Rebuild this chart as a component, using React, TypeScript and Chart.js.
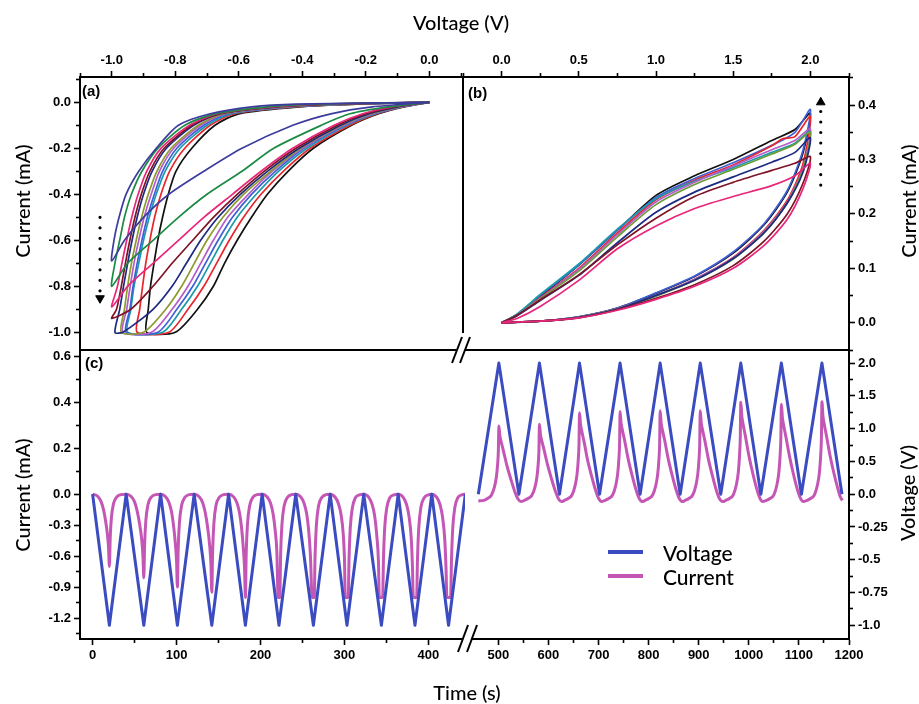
import React, { useEffect, useRef } from 'react';
import { Chart, registerables } from 'chart.js';

Chart.register(...registerables);

type Pt = [number, number];

// ================= Panel (a): CV loops, negative window  [V, mA] =================
const aBlack: Pt[] = [[0,0],[-0.08,-0.02],[-0.16,-0.05],[-0.245,-0.1],[-0.365,-0.2],[-0.445,-0.3],[-0.51,-0.4],[-0.56,-0.5],[-0.605,-0.6],[-0.645,-0.7],[-0.68,-0.8],[-0.73,-0.9],[-0.8,-1.0],[-0.89,-1.0],[-0.885,-0.9],[-0.878,-0.8],[-0.867,-0.7],[-0.855,-0.6],[-0.84,-0.5],[-0.822,-0.4],[-0.798,-0.3],[-0.748,-0.2],[-0.675,-0.1],[-0.6,-0.05],[-0.41,-0.02],[-0.22,-0.008],[0,0]];
const aRed: Pt[] = [[0,0],[-0.085,-0.02],[-0.165,-0.05],[-0.25,-0.1],[-0.375,-0.2],[-0.46,-0.3],[-0.53,-0.4],[-0.585,-0.5],[-0.63,-0.6],[-0.67,-0.7],[-0.71,-0.8],[-0.76,-0.9],[-0.82,-1.0],[-0.92,-1.0],[-0.912,-0.9],[-0.903,-0.8],[-0.893,-0.7],[-0.88,-0.6],[-0.865,-0.5],[-0.845,-0.4],[-0.818,-0.3],[-0.77,-0.2],[-0.69,-0.1],[-0.615,-0.05],[-0.43,-0.02],[-0.24,-0.008],[0,0]];
const aTeal: Pt[] = [[0,0],[-0.088,-0.02],[-0.17,-0.05],[-0.26,-0.1],[-0.385,-0.2],[-0.475,-0.3],[-0.545,-0.4],[-0.605,-0.5],[-0.65,-0.6],[-0.69,-0.7],[-0.73,-0.8],[-0.78,-0.9],[-0.84,-1.0],[-0.95,-1.0],[-0.94,-0.9],[-0.93,-0.8],[-0.915,-0.7],[-0.9,-0.6],[-0.882,-0.5],[-0.86,-0.4],[-0.832,-0.3],[-0.785,-0.2],[-0.7,-0.1],[-0.625,-0.05],[-0.44,-0.02],[-0.25,-0.008],[0,0]];
const aBlue: Pt[] = [[0,0],[-0.09,-0.02],[-0.175,-0.05],[-0.265,-0.1],[-0.395,-0.2],[-0.485,-0.3],[-0.56,-0.4],[-0.62,-0.5],[-0.665,-0.6],[-0.705,-0.7],[-0.745,-0.8],[-0.795,-0.9],[-0.855,-1.0],[-0.955,-1.0],[-0.943,-0.9],[-0.933,-0.8],[-0.92,-0.7],[-0.905,-0.6],[-0.888,-0.5],[-0.866,-0.4],[-0.84,-0.3],[-0.795,-0.2],[-0.71,-0.1],[-0.635,-0.05],[-0.45,-0.02],[-0.26,-0.008],[0,0]];
const aViolet: Pt[] = [[0,0],[-0.093,-0.02],[-0.18,-0.05],[-0.27,-0.1],[-0.4,-0.2],[-0.495,-0.3],[-0.57,-0.4],[-0.635,-0.5],[-0.68,-0.6],[-0.72,-0.7],[-0.76,-0.8],[-0.81,-0.9],[-0.875,-1.0],[-0.965,-1.0],[-0.953,-0.9],[-0.942,-0.8],[-0.93,-0.7],[-0.915,-0.6],[-0.898,-0.5],[-0.876,-0.4],[-0.85,-0.3],[-0.805,-0.2],[-0.72,-0.1],[-0.645,-0.05],[-0.46,-0.02],[-0.27,-0.008],[0,0]];
const aOlive: Pt[] = [[0,0],[-0.096,-0.02],[-0.185,-0.05],[-0.275,-0.1],[-0.405,-0.2],[-0.5,-0.3],[-0.585,-0.4],[-0.65,-0.5],[-0.7,-0.6],[-0.74,-0.7],[-0.78,-0.8],[-0.83,-0.9],[-0.9,-1.0],[-0.97,-1.0],[-0.96,-0.9],[-0.95,-0.8],[-0.938,-0.7],[-0.923,-0.6],[-0.906,-0.5],[-0.885,-0.4],[-0.858,-0.3],[-0.813,-0.2],[-0.728,-0.1],[-0.65,-0.05],[-0.47,-0.02],[-0.28,-0.008],[0,0]];
const aNavy: Pt[] = [[0,0],[-0.1,-0.02],[-0.19,-0.05],[-0.28,-0.1],[-0.41,-0.2],[-0.51,-0.3],[-0.595,-0.4],[-0.665,-0.5],[-0.72,-0.6],[-0.765,-0.7],[-0.81,-0.8],[-0.87,-0.9],[-0.965,-1.0],[-0.99,-1.0],[-0.975,-0.9],[-0.963,-0.8],[-0.95,-0.7],[-0.936,-0.6],[-0.92,-0.5],[-0.9,-0.4],[-0.873,-0.3],[-0.828,-0.2],[-0.742,-0.1],[-0.66,-0.05],[-0.48,-0.02],[-0.3,-0.008],[0,0]];
const aMaroon: Pt[] = [[0,0],[-0.11,-0.02],[-0.2,-0.05],[-0.29,-0.1],[-0.42,-0.2],[-0.52,-0.3],[-0.605,-0.4],[-0.68,-0.5],[-0.745,-0.6],[-0.81,-0.7],[-0.87,-0.8],[-0.94,-0.9],[-1.0,-0.94],[-0.985,-0.9],[-0.97,-0.8],[-0.957,-0.7],[-0.943,-0.6],[-0.927,-0.5],[-0.907,-0.4],[-0.88,-0.3],[-0.835,-0.2],[-0.748,-0.1],[-0.665,-0.05],[-0.49,-0.02],[-0.32,-0.008],[0,0]];
const aPink: Pt[] = [[0,0],[-0.12,-0.02],[-0.21,-0.05],[-0.3,-0.1],[-0.43,-0.2],[-0.53,-0.3],[-0.62,-0.4],[-0.71,-0.5],[-0.79,-0.6],[-0.87,-0.7],[-0.95,-0.8],[-1.0,-0.89],[-0.982,-0.8],[-0.968,-0.7],[-0.953,-0.6],[-0.937,-0.5],[-0.917,-0.4],[-0.89,-0.3],[-0.845,-0.2],[-0.755,-0.1],[-0.67,-0.05],[-0.5,-0.02],[-0.34,-0.008],[0,0]];
const aGreen: Pt[] = [[0,0],[-0.13,-0.02],[-0.25,-0.05],[-0.34,-0.1],[-0.49,-0.2],[-0.59,-0.3],[-0.7,-0.4],[-0.79,-0.5],[-0.87,-0.6],[-0.95,-0.7],[-1.0,-0.8],[-0.99,-0.7],[-0.975,-0.6],[-0.96,-0.5],[-0.938,-0.4],[-0.905,-0.3],[-0.855,-0.2],[-0.77,-0.1],[-0.675,-0.05],[-0.51,-0.02],[-0.36,-0.008],[0,0]];
const aIndigo: Pt[] = [[0,0],[-0.18,-0.02],[-0.31,-0.05],[-0.43,-0.1],[-0.59,-0.2],[-0.71,-0.3],[-0.82,-0.4],[-0.9,-0.5],[-0.96,-0.6],[-1.0,-0.69],[-0.993,-0.6],[-0.977,-0.5],[-0.955,-0.4],[-0.915,-0.3],[-0.86,-0.2],[-0.79,-0.1],[-0.69,-0.05],[-0.56,-0.02],[-0.42,-0.008],[0,0]];
const aArrowTail: Pt = [-1.037, -0.5];
const aArrowHead: Pt = [-1.037, -0.852];

// ================= Panel (b): CV loops, positive window  [V, mA] =================
const bBlack: Pt[] = [[0,0],[0.25,0.003],[0.5,0.011],[0.75,0.027],[1.0,0.054],[1.25,0.085],[1.5,0.128],[1.7,0.18],[1.85,0.24],[1.95,0.31],[2.0,0.385],[1.9,0.355],[1.75,0.335],[1.5,0.3],[1.25,0.27],[1.0,0.234],[0.75,0.17],[0.5,0.106],[0.25,0.048],[0.1,0.015],[0,0]];
const bBlue: Pt[] = [[0,0],[0.25,0.003],[0.5,0.011],[0.75,0.027],[1.0,0.055],[1.25,0.086],[1.5,0.13],[1.7,0.182],[1.85,0.243],[1.95,0.315],[2.0,0.392],[1.9,0.35],[1.75,0.326],[1.5,0.294],[1.25,0.265],[1.0,0.23],[0.75,0.17],[0.5,0.106],[0.25,0.05],[0.1,0.016],[0,0]];
const bRed: Pt[] = [[0,0],[0.25,0.003],[0.5,0.01],[0.75,0.026],[1.0,0.05],[1.25,0.08],[1.5,0.12],[1.7,0.17],[1.85,0.225],[1.95,0.29],[2.0,0.379],[1.9,0.342],[1.82,0.338],[1.75,0.325],[1.5,0.29],[1.25,0.262],[1.0,0.226],[0.75,0.165],[0.5,0.1],[0.25,0.046],[0.1,0.015],[0,0]];
const bTeal: Pt[] = [[0,0],[0.25,0.003],[0.5,0.01],[0.75,0.026],[1.0,0.05],[1.25,0.079],[1.5,0.118],[1.7,0.167],[1.85,0.22],[1.95,0.28],[2.0,0.352],[1.9,0.33],[1.75,0.313],[1.5,0.285],[1.25,0.26],[1.0,0.228],[0.75,0.172],[0.5,0.108],[0.25,0.052],[0.1,0.016],[0,0]];
const bViolet: Pt[] = [[0,0],[0.25,0.003],[0.5,0.01],[0.75,0.026],[1.0,0.05],[1.25,0.08],[1.5,0.119],[1.7,0.168],[1.85,0.222],[1.95,0.283],[2.0,0.356],[1.9,0.335],[1.75,0.318],[1.5,0.288],[1.25,0.258],[1.0,0.222],[0.75,0.162],[0.5,0.098],[0.25,0.045],[0.1,0.014],[0,0]];
const bOlive: Pt[] = [[0,0],[0.25,0.003],[0.5,0.01],[0.75,0.025],[1.0,0.049],[1.25,0.078],[1.5,0.117],[1.7,0.166],[1.85,0.22],[1.95,0.28],[2.0,0.35],[1.9,0.328],[1.75,0.31],[1.5,0.282],[1.25,0.254],[1.0,0.217],[0.75,0.158],[0.5,0.095],[0.25,0.044],[0.1,0.014],[0,0]];
const bNavy: Pt[] = [[0,0],[0.25,0.003],[0.5,0.01],[0.75,0.025],[1.0,0.05],[1.25,0.078],[1.5,0.118],[1.7,0.165],[1.85,0.22],[1.95,0.275],[2.0,0.34],[1.9,0.313],[1.75,0.295],[1.5,0.268],[1.25,0.24],[1.0,0.203],[0.75,0.147],[0.5,0.087],[0.25,0.041],[0.1,0.013],[0,0]];
const bMaroon: Pt[] = [[0,0],[0.25,0.003],[0.5,0.009],[0.75,0.024],[1.0,0.045],[1.25,0.07],[1.5,0.105],[1.7,0.15],[1.85,0.2],[1.95,0.255],[2.0,0.305],[1.9,0.293],[1.75,0.28],[1.5,0.258],[1.25,0.232],[1.0,0.192],[0.75,0.143],[0.5,0.088],[0.25,0.042],[0.1,0.014],[0,0]];
const bPink: Pt[] = [[0,0],[0.25,0.003],[0.5,0.009],[0.75,0.023],[1.0,0.043],[1.25,0.067],[1.5,0.1],[1.7,0.142],[1.85,0.19],[1.95,0.245],[2.0,0.293],[1.9,0.27],[1.75,0.252],[1.5,0.232],[1.25,0.21],[1.0,0.178],[0.75,0.136],[0.5,0.078],[0.25,0.03],[0.1,0.008],[0,0]];
const bArrowTail: Pt = [2.067, 0.253];
const bArrowHead: Pt = [2.067, 0.405];

// ================= Panel (c): time series =================
const leftVoltT = [0, 20, 40, 61, 81, 101, 121, 142, 162, 182, 202, 222, 242, 263, 283, 303, 323, 344, 364, 384, 404, 424, 444];
const leftVoltV = [0, -1, 0, -1, 0, -1, 0, -1, 0, -1, 0, -1, 0, -1, 0, -1, 0, -1, 0, -1, 0, -1, 0];
const rightVoltT = [460, 501, 541, 582, 622, 662, 702, 743, 783, 823, 863, 903, 944, 984, 1024, 1065, 1105, 1146, 1186];
const rightVoltV = [0, 2, 0, 2, 0, 2, 0, 2, 0, 2, 0, 2, 0, 2, 0, 2, 0, 2, 0];

const leftCurT = [
  0, 6, 10, 13, 15.5, 17.5, 19, 20, 21, 22.5, 25, 29, 34,
  40, 46, 50, 53, 56, 58.5, 60, 61, 62, 63.5, 66, 70, 75,
  81, 87, 91, 94, 96.5, 98.5, 100, 101, 102, 103.5, 106, 110, 115,
  121, 127, 131, 134, 137, 139.5, 141, 142, 143, 144.5, 147, 151, 156,
  162, 168, 172, 175, 177.5, 179.5, 181, 182, 183, 184.5, 187, 191, 196,
  202, 208, 212, 215, 217.5, 219.5, 221, 223, 224, 225.5, 228, 232, 237,
  242, 248, 252, 255, 257.5, 259.5, 261.5, 264, 265, 266.5, 269, 273, 278,
  283, 289, 293, 296, 298.5, 300, 301, 304.5, 305.5, 307, 309.5, 313, 318,
  323, 329, 333, 336, 338.5, 340.5, 341.5, 345.5, 346.5, 348, 350.5, 354, 359,
  364, 370, 374, 377, 379.5, 381, 382, 386, 387, 388.5, 391, 395, 400,
  404, 410, 414, 417, 419.5, 421, 422, 426.5, 427.5, 429, 431.5, 435, 440, 444,
];
const leftCurI = [
  0, -0.02, -0.07, -0.15, -0.26, -0.38, -0.52, -0.7, -0.42, -0.22, -0.09, -0.025, -0.004,
  0, -0.022, -0.075, -0.16, -0.29, -0.44, -0.6, -0.81, -0.48, -0.25, -0.1, -0.028, -0.005,
  0, -0.024, -0.08, -0.17, -0.31, -0.47, -0.65, -0.9, -0.52, -0.27, -0.11, -0.03, -0.005,
  0, -0.025, -0.08, -0.17, -0.32, -0.5, -0.68, -0.95, -0.55, -0.28, -0.11, -0.03, -0.005,
  0, -0.026, -0.085, -0.18, -0.33, -0.52, -0.72, -1.0, -0.57, -0.29, -0.115, -0.03, -0.005,
  0, -0.027, -0.088, -0.19, -0.35, -0.56, -1.0, -1.0, -0.58, -0.3, -0.12, -0.032, -0.005,
  0, -0.028, -0.09, -0.19, -0.36, -0.6, -1.0, -1.0, -0.6, -0.31, -0.12, -0.032, -0.005,
  0, -0.03, -0.095, -0.2, -0.38, -0.62, -1.0, -1.0, -0.62, -0.32, -0.13, -0.035, -0.006,
  0, -0.03, -0.1, -0.21, -0.4, -0.65, -1.0, -1.0, -0.62, -0.32, -0.13, -0.035, -0.006,
  0, -0.03, -0.1, -0.22, -0.42, -0.7, -1.0, -1.0, -0.63, -0.33, -0.13, -0.035, -0.006,
  0, -0.032, -0.105, -0.23, -0.44, -0.72, -1.0, -1.0, -0.64, -0.33, -0.13, -0.035, -0.006, 0,
];
const rightCurT = [
  460, 471, 479, 486, 492, 496, 498.5, 500, 501, 503, 506, 510, 517, 525, 533, 539, 545,
  552, 560, 567, 573, 577, 579.5, 581, 582, 584, 587, 591, 598, 606, 614, 620, 626,
  632, 640, 647, 653, 657, 659.5, 661, 662, 664, 667, 671, 678, 686, 694, 700, 706,
  713, 721, 728, 734, 738, 740.5, 742, 743, 745, 748, 752, 759, 767, 775, 781, 787,
  793, 801, 808, 814, 818, 820.5, 822, 823, 825, 828, 832, 839, 847, 855, 861, 867,
  873, 881, 888, 894, 898, 900.5, 902, 903, 905, 908, 912, 919, 927, 935, 941, 948,
  954, 962, 969, 975, 979, 981.5, 983, 984, 986, 989, 993, 1000, 1008, 1016, 1022, 1028,
  1035, 1043, 1050, 1056, 1060, 1062.5, 1064, 1065, 1067, 1070, 1074, 1081, 1089, 1097, 1103, 1109,
  1116, 1124, 1131, 1137, 1141, 1143.5, 1145, 1146, 1148, 1151, 1155, 1162, 1170, 1178, 1183, 1187,
];
const rightCurI = [
  -0.065, -0.06, -0.04, -0.01, 0.03, 0.075, 0.13, 0.19, 0.297, 0.255, 0.225, 0.19, 0.125, 0.065, 0.01, -0.045, -0.072,
  -0.06, -0.04, -0.01, 0.03, 0.075, 0.13, 0.19, 0.305, 0.262, 0.23, 0.195, 0.13, 0.068, 0.012, -0.045, -0.072,
  -0.06, -0.04, -0.008, 0.035, 0.085, 0.15, 0.22, 0.355, 0.305, 0.27, 0.23, 0.15, 0.08, 0.018, -0.04, -0.072,
  -0.06, -0.04, -0.008, 0.035, 0.085, 0.15, 0.22, 0.36, 0.31, 0.275, 0.235, 0.155, 0.082, 0.018, -0.04, -0.072,
  -0.06, -0.04, -0.008, 0.035, 0.085, 0.15, 0.22, 0.364, 0.31, 0.275, 0.235, 0.155, 0.082, 0.018, -0.04, -0.072,
  -0.06, -0.04, -0.008, 0.035, 0.085, 0.15, 0.22, 0.364, 0.312, 0.276, 0.236, 0.156, 0.083, 0.018, -0.04, -0.072,
  -0.06, -0.04, -0.006, 0.04, 0.095, 0.17, 0.25, 0.401, 0.34, 0.3, 0.255, 0.17, 0.09, 0.022, -0.038, -0.072,
  -0.06, -0.04, -0.006, 0.04, 0.095, 0.17, 0.25, 0.392, 0.335, 0.295, 0.25, 0.168, 0.088, 0.02, -0.038, -0.072,
  -0.06, -0.04, -0.006, 0.04, 0.095, 0.17, 0.25, 0.403, 0.34, 0.3, 0.255, 0.17, 0.09, 0.022, -0.03, -0.06,
];

// ================= Tick labels =================
const aVoltMajor = [-1.0, -0.8, -0.6, -0.4, -0.2, 0.0];
const aVoltMinor = [-1.1, -0.9, -0.7, -0.5, -0.3, -0.1, 0.1];
const aCurMajor = [0.0, -0.2, -0.4, -0.6, -0.8, -1.0];
const aCurMinor = [0.1, -0.1, -0.3, -0.5, -0.7, -0.9];
const bVoltMajor = [0.0, 0.5, 1.0, 1.5, 2.0];
const bVoltMinor = [-0.25, 0.25, 0.75, 1.25, 1.75, 2.25];
const bCurMajor = [0.0, 0.1, 0.2, 0.3, 0.4];
const bCurMinor = [-0.05, 0.05, 0.15, 0.25, 0.35, 0.45];
const cCurMajor = [0.6, 0.4, 0.2, 0.0, -0.3, -0.6, -0.9, -1.2];
const cCurMinor = [0.5, 0.3, 0.1, -0.15, -0.45, -0.75, -1.05, -1.35];
const cVoltMajor = [2.0, 1.5, 1.0, 0.5, 0.0, -0.25, -0.5, -0.75, -1.0];
const cVoltMinor = [1.75, 1.25, 0.75, 0.25, -0.125, -0.375, -0.625, -0.875];
const timeMajorL = [0, 100, 200, 300, 400];
const timeMinorL = [50, 150, 250, 350];
const timeMajorR = [500, 600, 700, 800, 900, 1000, 1100, 1200];
const timeMinorR = [550, 650, 750, 850, 950, 1050, 1150];

// Panel (c) uses a broken (piecewise) vertical scale: different compression above/below zero.
const uVolt = (v: number) => (v >= 0 ? v : 2 * v);
const uCur = (i: number) => (i >= 0 ? 3.5 * i : 1.575 * i);

const W = 919;
const H = 704;
const TICK_FONT = "'Liberation Sans', Arial, Helvetica, sans-serif";
const TITLE_FONT = "Lato, 'Open Sans', 'DejaVu Sans', sans-serif";
const VOLT_COLOR = '#3a4cc0';
const CUR_COLOR = '#c457b5';

interface TickDef { value: number; text: string; isMinor: boolean }

function buildTicks(major: number[], minor: number[], fmt: (v: number) => string, tf: (v: number) => number = (v) => v): TickDef[] {
  const list: TickDef[] = [];
  major.forEach((v) => list.push({ value: tf(v), text: fmt(v), isMinor: false }));
  minor.forEach((v) => list.push({ value: tf(v), text: '', isMinor: true }));
  list.sort((a, b) => a.value - b.value);
  return list;
}
const f1 = (v: number) => v.toFixed(1);
const fV = (v: number) => (Number.isInteger(v * 2) ? v.toFixed(1) : v.toFixed(2));
const fT = (v: number) => String(v);

function axisCfg(position: string, min: number, max: number, ticks: TickDef[], size: number) {
  const horizontal = position === 'top' || position === 'bottom';
  const outerFirst = position === 'top' || position === 'left';
  return {
    type: 'linear',
    position,
    min,
    max,
    bounds: 'data',
    afterBuildTicks: (scale: any) => {
      scale.ticks = ticks.map((t) => ({ ...t }));
    },
    afterFit: (scale: any) => {
      if (horizontal) scale.height = size;
      else scale.width = size;
      scale.paddingLeft = 0;
      scale.paddingRight = 0;
      scale.paddingTop = 0;
      scale.paddingBottom = 0;
    },
    ticks: {
      autoSkip: false,
      maxRotation: 0,
      minRotation: 0,
      padding: 3,
      color: '#000',
      font: { family: TICK_FONT, size: 13, weight: 'bold' },
      callback: (_v: any, i: number, ts: any[]) => (ts[i] && ts[i].text) || '',
    },
    grid: {
      display: true,
      drawOnChartArea: false,
      drawTicks: true,
      tickLength: 6,
      tickWidth: 1.6,
      tickColor: '#000',
      tickBorderDash: (ctx: any) => (ctx.tick && ctx.tick.isMinor ? (outerFirst ? [3, 2] : [3, 20]) : []),
      tickBorderDashOffset: (ctx: any) => (ctx.tick && ctx.tick.isMinor && outerFirst ? 3 : 0),
    },
    border: { display: true, color: '#000', width: 2 },
  };
}

function borderAxis(position: string, min: number, max: number) {
  const horizontal = position === 'top' || position === 'bottom';
  return {
    type: 'linear',
    position,
    min,
    max,
    bounds: 'data',
    ticks: { display: false },
    grid: { display: false, drawTicks: false },
    border: { display: true, color: '#000', width: 2 },
    afterFit: (scale: any) => {
      if (horizontal) scale.height = 0;
      else scale.width = 0;
      scale.paddingLeft = 0;
      scale.paddingRight = 0;
      scale.paddingTop = 0;
      scale.paddingBottom = 0;
    },
  };
}

function baseOptions(padding: any, scales: any) {
  return {
    responsive: false,
    animation: false,
    events: [],
    layout: { padding },
    plugins: { legend: { display: false }, tooltip: { enabled: false }, title: { display: false } },
    elements: { point: { radius: 0 } },
    scales,
  };
}

function loopDataset(pts: Pt[], color: string) {
  return {
    data: pts.map(([x, y]) => ({ x, y })),
    borderColor: color,
    borderWidth: 1.7,
    pointRadius: 0,
    tension: 0.25,
    fill: false,
    xAxisID: 'x',
    yAxisID: 'y',
  };
}

function arrowDataset(tail: Pt, head: Pt, rotation: number) {
  return {
    data: [{ x: tail[0], y: tail[1] }, { x: head[0], y: head[1] }],
    borderColor: '#000',
    borderWidth: 3.2,
    borderDash: [0.01, 10.5],
    borderCapStyle: 'round',
    pointRadius: [0, 5],
    pointStyle: 'triangle',
    pointRotation: rotation,
    pointBackgroundColor: '#000',
    pointBorderColor: '#000',
    pointBorderWidth: 1,
    tension: 0,
    fill: false,
    xAxisID: 'x',
    yAxisID: 'y',
  };
}

function seriesDataset(ts: number[], vs: number[], tf: (v: number) => number, color: string, smooth: boolean) {
  return {
    data: ts.map((t, i) => ({ x: t, y: tf(vs[i]) })),
    borderColor: color,
    borderWidth: 3,
    pointRadius: 0,
    tension: 0,
    cubicInterpolationMode: smooth ? 'monotone' : 'default',
    borderJoinStyle: 'round',
    fill: false,
    xAxisID: 'x',
    yAxisID: 'y',
  };
}

const aLoops = [
  { pts: aIndigo, color: '#3d3b9e' },
  { pts: aGreen, color: '#1b8a44' },
  { pts: aPink, color: '#e8267a' },
  { pts: aMaroon, color: '#7d1426' },
  { pts: aNavy, color: '#1c2a80' },
  { pts: aOlive, color: '#8c9b2e' },
  { pts: aViolet, color: '#b65cc9' },
  { pts: aBlue, color: '#3f5fd6' },
  { pts: aTeal, color: '#1a9bab' },
  { pts: aRed, color: '#e8262b' },
  { pts: aBlack, color: '#111111' },
];
const bLoops = [
  { pts: bPink, color: '#e8267a' },
  { pts: bMaroon, color: '#7d1426' },
  { pts: bNavy, color: '#1c2a80' },
  { pts: bOlive, color: '#6b9c3a' },
  { pts: bViolet, color: '#b65cc9' },
  { pts: bTeal, color: '#1a9bab' },
  { pts: bRed, color: '#e8262b' },
  { pts: bBlue, color: '#3f5fd6' },
  { pts: bBlack, color: '#111111' },
];

// decorative "//" axis-break marks, placed relative to the chart area
const breakMarks = {
  id: 'breakMarks',
  afterDraw(chart: any) {
    const { ctx, chartArea } = chart;
    const { left, top, bottom } = chartArea;
    ctx.save();
    ctx.fillStyle = '#fff';
    ctx.fillRect(left - 8, top - 3, 8, 6);
    ctx.fillRect(left - 5, top - 17, 6, 14);
    ctx.fillRect(left - 2, bottom - 4, 9, 8);
    ctx.strokeStyle = '#000';
    ctx.lineWidth = 2;
    const slash = (x1: number, y1: number, x2: number, y2: number) => {
      ctx.beginPath();
      ctx.moveTo(x1, y1);
      ctx.lineTo(x2, y2);
      ctx.stroke();
    };
    slash(left - 13, top + 13, left - 3, top - 13);
    slash(left - 5, top + 13, left + 5, top - 13);
    slash(left - 7, bottom + 13, left + 3, bottom - 14);
    slash(left + 2, bottom + 13, left + 12, bottom - 14);
    ctx.restore();
  },
};

function cfgA(): any {
  return {
    type: 'line',
    data: { datasets: [arrowDataset(aArrowTail, aArrowHead, 180), ...aLoops.map((l) => loopDataset(l.pts, l.color))] },
    options: baseOptions({ left: 0, top: 40, right: W - 463, bottom: H - 350 }, {
      x: axisCfg('top', -1.1, 0.106, buildTicks(aVoltMajor, aVoltMinor, f1), 37),
      y: axisCfg('left', -1.077, 0.11, buildTicks(aCurMajor, aCurMinor, f1), 80),
      yR: borderAxis('right', -1.077, 0.11),
    }),
  };
}

function cfgB(): any {
  return {
    type: 'line',
    data: { datasets: [arrowDataset(bArrowTail, bArrowHead, 0), ...bLoops.map((l) => loopDataset(l.pts, l.color))] },
    options: baseOptions({ left: 463, top: 40, right: 30, bottom: H - 350 }, {
      x: axisCfg('top', -0.25, 2.25, buildTicks(bVoltMajor, bVoltMinor, f1), 37),
      y: axisCfg('right', -0.05, 0.4515, buildTicks(bCurMajor, bCurMinor, f1), 40),
    }),
  };
}

function cfgCL(): any {
  return {
    type: 'line',
    data: {
      datasets: [
        seriesDataset(leftVoltT, leftVoltV, uVolt, VOLT_COLOR, false),
        seriesDataset(leftCurT, leftCurI, uCur, CUR_COLOR, true),
      ],
    },
    options: baseOptions({ left: 0, top: 350, right: W - 465, bottom: 35 }, {
      x: axisCfg('bottom', -15, 443.6, buildTicks(timeMajorL, timeMinorL, fT), 30),
      xTop: borderAxis('top', -15, 443.6),
      y: axisCfg('left', -2.21, 2.2, buildTicks(cCurMajor, cCurMinor, f1, uCur), 80),
    }),
  };
}

function cfgCR(): any {
  return {
    type: 'line',
    data: {
      datasets: [
        seriesDataset(rightVoltT, rightVoltV, uVolt, VOLT_COLOR, false),
        seriesDataset(rightCurT, rightCurI, uCur, CUR_COLOR, true),
      ],
    },
    options: baseOptions({ left: 465, top: 350, right: 30, bottom: 35 }, {
      x: axisCfg('bottom', 433.4, 1200, buildTicks(timeMajorR, timeMinorR, fT), 30),
      xTop: borderAxis('top', 433.4, 1200),
      y: axisCfg('right', -2.21, 2.2, buildTicks(cVoltMajor, cVoltMinor, fV, uVolt), 40),
    }),
    plugins: [breakMarks],
  };
}

const canvasStyle: React.CSSProperties = { position: 'absolute', left: 0, top: 0 };

function Title({ x, y, rot = 0, children, size = 20 }: any) {
  return (
    <div
      style={{
        position: 'absolute',
        left: x,
        top: y,
        transform: `translate(-50%, -50%) rotate(${rot}deg)`,
        whiteSpace: 'nowrap',
        fontFamily: TITLE_FONT,
        fontWeight: 500,
        fontSize: size,
        lineHeight: '24px',
        color: '#000',
      }}
    >
      {children}
    </div>
  );
}

function PanelTag({ x, y, children }: any) {
  return (
    <div
      style={{
        position: 'absolute',
        left: x,
        top: y,
        fontFamily: TICK_FONT,
        fontWeight: 'bold',
        fontSize: 15,
        lineHeight: '15px',
        color: '#000',
        whiteSpace: 'nowrap',
      }}
    >
      {children}
    </div>
  );
}

function LegendRow({ y, color, label }: any) {
  return (
    <>
      <div style={{ position: 'absolute', left: 608, top: y - 2, width: 35, height: 4, background: color }} />
      <div
        style={{
          position: 'absolute',
          left: 663,
          top: y - 12.5,
          fontFamily: TITLE_FONT,
          fontWeight: 500,
          fontSize: 21,
          lineHeight: '25px',
          color: '#000',
          whiteSpace: 'nowrap',
        }}
      >
        {label}
      </div>
    </>
  );
}

export default function App() {
  const refA = useRef<HTMLCanvasElement>(null);
  const refB = useRef<HTMLCanvasElement>(null);
  const refCL = useRef<HTMLCanvasElement>(null);
  const refCR = useRef<HTMLCanvasElement>(null);

  useEffect(() => {
    const charts: Chart[] = [];
    if (refA.current) charts.push(new Chart(refA.current, cfgA()));
    if (refB.current) charts.push(new Chart(refB.current, cfgB()));
    if (refCL.current) charts.push(new Chart(refCL.current, cfgCL()));
    if (refCR.current) charts.push(new Chart(refCR.current, cfgCR()));
    return () => {
      charts.forEach((c) => c.destroy());
    };
  }, []);

  return (
    <div style={{ position: 'absolute', left: 0, top: 0, width: W, height: H, overflow: 'hidden', background: '#fff' }}>
      <canvas ref={refA} width={W} height={H} style={canvasStyle} />
      <canvas ref={refB} width={W} height={H} style={canvasStyle} />
      <canvas ref={refCL} width={W} height={H} style={canvasStyle} />
      <canvas ref={refCR} width={W} height={H} style={canvasStyle} />

      <Title x={461} y={22}>Voltage (V)</Title>
      <Title x={467} y={692}>Time (s)</Title>
      <Title x={22} y={201} rot={-90}>Current (mA)</Title>
      <Title x={908} y={201} rot={-90}>Current (mA)</Title>
      <Title x={22} y={495} rot={-90}>Current (mA)</Title>
      <Title x={907} y={493} rot={-90}>Voltage (V)</Title>

      <PanelTag x={82} y={83}>(a)</PanelTag>
      <PanelTag x={468} y={85}>(b)</PanelTag>
      <PanelTag x={85} y={355}>(c)</PanelTag>

      <LegendRow y={552} color={VOLT_COLOR} label="Voltage" />
      <LegendRow y={576} color={CUR_COLOR} label="Current" />
    </div>
  );
}
